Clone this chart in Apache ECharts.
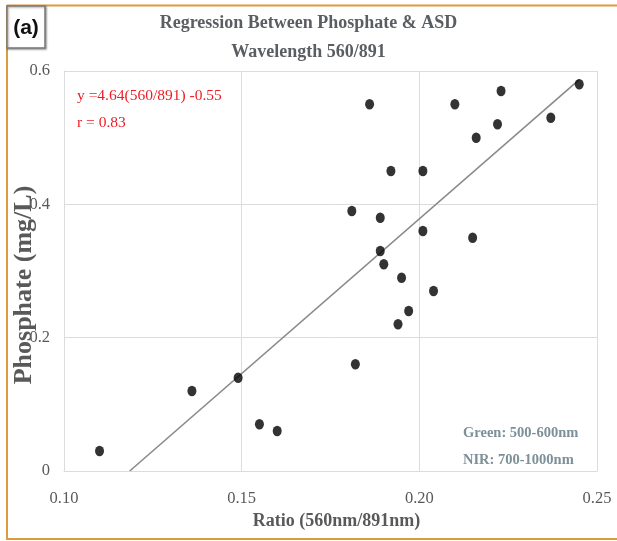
<!DOCTYPE html>
<html>
<head>
<meta charset="utf-8">
<script src="https://cdn.jsdelivr.net/npm/echarts@6/dist/echarts.min.js"></script>
<style>html,body{margin:0;padding:0;background:#fff}#chart{width:617px;height:541px}</style>
</head>
<body>
<div id="chart"></div>
<script>
// Data
var ratioX = [0.110, 0.136, 0.149, 0.155, 0.160, 0.182, 0.181, 0.186, 0.189, 0.189, 0.190, 0.192, 0.194, 0.195, 0.197, 0.201, 0.201, 0.204, 0.210, 0.215, 0.216, 0.222, 0.223, 0.237, 0.245];
var phosphateY = [0.03, 0.12, 0.14, 0.07, 0.06, 0.16, 0.39, 0.55, 0.38, 0.33, 0.31, 0.45, 0.22, 0.29, 0.24, 0.45, 0.36, 0.27, 0.55, 0.35, 0.50, 0.52, 0.57, 0.53, 0.58];
var fitX = [0.1185, 0.245];
var fitY = [0.0, 0.587];
var xTicks = [0.10, 0.15, 0.20, 0.25];
var yTicks = [0, 0.2, 0.4, 0.6];
var titleLines = ['Regression Between Phosphate & ASD', 'Wavelength 560/891'];
var equationLines = ['y =4.64(560/891) -0.55', 'r = 0.83'];
var noteLines = ['Green: 500-600nm', 'NIR: 700-1000nm'];

var scatterData = ratioX.map(function (x, i) { return [x, phosphateY[i]]; });
var fitData = fitX.map(function (x, i) { return [x, fitY[i]]; });

var serif = '"Liberation Serif", "DejaVu Serif", serif';
var grey = '#595959';
var gridCol = '#dcdcdc';
var orange = '#dc9b3c';

var chart = echarts.init(document.getElementById('chart'), null, {renderer: 'canvas'});
chart.setOption({
  backgroundColor: '#ffffff',
  animation: false,
  title: {
    text: titleLines.join('\n'),
    left: 'center',
    top: 4,
    textStyle: {fontFamily: serif, fontWeight: 'bold', fontSize: 18, color: '#5a5e62', lineHeight: 29}
  },
  grid: {left: 64, right: 20, top: 71, bottom: 70, containLabel: false, outerBoundsMode: 'none'},
  xAxis: {
    type: 'value',
    min: xTicks[0], max: xTicks[xTicks.length - 1], interval: 0.05,
    name: 'Ratio (560nm/891nm)',
    nameLocation: 'middle', nameGap: 41, nameMoveOverlap: false,
    nameTextStyle: {fontFamily: serif, fontWeight: 'bold', fontSize: 18, color: grey, padding: [0, 0, 0, 12]},
    axisLine: {show: true, lineStyle: {color: gridCol, width: 1}},
    axisTick: {show: false},
    axisLabel: {margin: 19, fontFamily: serif, fontSize: 16.5, color: grey, formatter: function (v) { return v.toFixed(2); }},
    splitLine: {show: true, lineStyle: {color: gridCol, width: 1}}
  },
  yAxis: {
    type: 'value',
    min: yTicks[0], max: yTicks[yTicks.length - 1], interval: 0.2,
    name: 'Phosphate (mg/L)',
    nameLocation: 'middle', nameGap: 27, nameMoveOverlap: false,
    nameTextStyle: {fontFamily: serif, fontWeight: 'bold', fontSize: 26, color: grey, padding: [0, 28, 0, 0]},
    axisLine: {show: true, lineStyle: {color: gridCol, width: 1}},
    axisTick: {show: false},
    axisLabel: {margin: 14, fontFamily: serif, fontSize: 16.5, color: grey, formatter: function (v) { return v === 0 ? '0' : v.toFixed(1); }},
    splitLine: {show: true, lineStyle: {color: gridCol, width: 1}}
  },
  graphic: [
    {type: 'line', silent: true, shape: {x1: 7, y1: 5.5, x2: 617, y2: 5.5}, style: {stroke: orange, lineWidth: 2}},
    {type: 'line', silent: true, shape: {x1: 7, y1: 5, x2: 7, y2: 540}, style: {stroke: orange, lineWidth: 2}},
    {type: 'line', silent: true, shape: {x1: 7, y1: 539, x2: 617, y2: 539}, style: {stroke: orange, lineWidth: 2}},
    {type: 'rect', silent: true, shape: {x: 7, y: 6, width: 38, height: 42},
      style: {fill: '#ffffff', stroke: '#7a7a7a', lineWidth: 1.5, shadowColor: 'rgba(0,0,0,0.35)', shadowBlur: 2, shadowOffsetX: 1, shadowOffsetY: 1}},
    {type: 'text', silent: true, x: 26, y: 28,
      style: {text: '(a)', fontFamily: '"Liberation Sans Narrow", "Liberation Sans", sans-serif', fontWeight: 'bold', fontSize: 21, fill: '#111', align: 'center', verticalAlign: 'middle'}},
    {type: 'text', silent: true, x: 77, y: 96,
      style: {text: equationLines[0], fontFamily: serif, fontSize: 15.5, fill: '#ee1c25', align: 'left', verticalAlign: 'middle'}},
    {type: 'text', silent: true, x: 77, y: 123,
      style: {text: equationLines[1], fontFamily: serif, fontSize: 15.5, fill: '#ee1c25', align: 'left', verticalAlign: 'middle'}},
    {type: 'text', silent: true, x: 463, y: 433,
      style: {text: noteLines[0], fontFamily: serif, fontWeight: 'bold', fontSize: 14.5, fill: '#7d9099', align: 'left', verticalAlign: 'middle'}},
    {type: 'text', silent: true, x: 463, y: 460,
      style: {text: noteLines[1], fontFamily: serif, fontWeight: 'bold', fontSize: 14.5, fill: '#7d9099', align: 'left', verticalAlign: 'middle'}}
  ],
  series: [
    {
      type: 'line', data: fitData, showSymbol: false, symbol: 'none',
      lineStyle: {color: '#8a8a8a', width: 1.6}, z: 2, silent: true
    },
    {
      type: 'scatter', data: scatterData, symbol: 'circle', symbolSize: [9, 10.5],
      itemStyle: {color: '#000000'}, z: 3
    }
  ]
});
</script>
</body>
</html>
